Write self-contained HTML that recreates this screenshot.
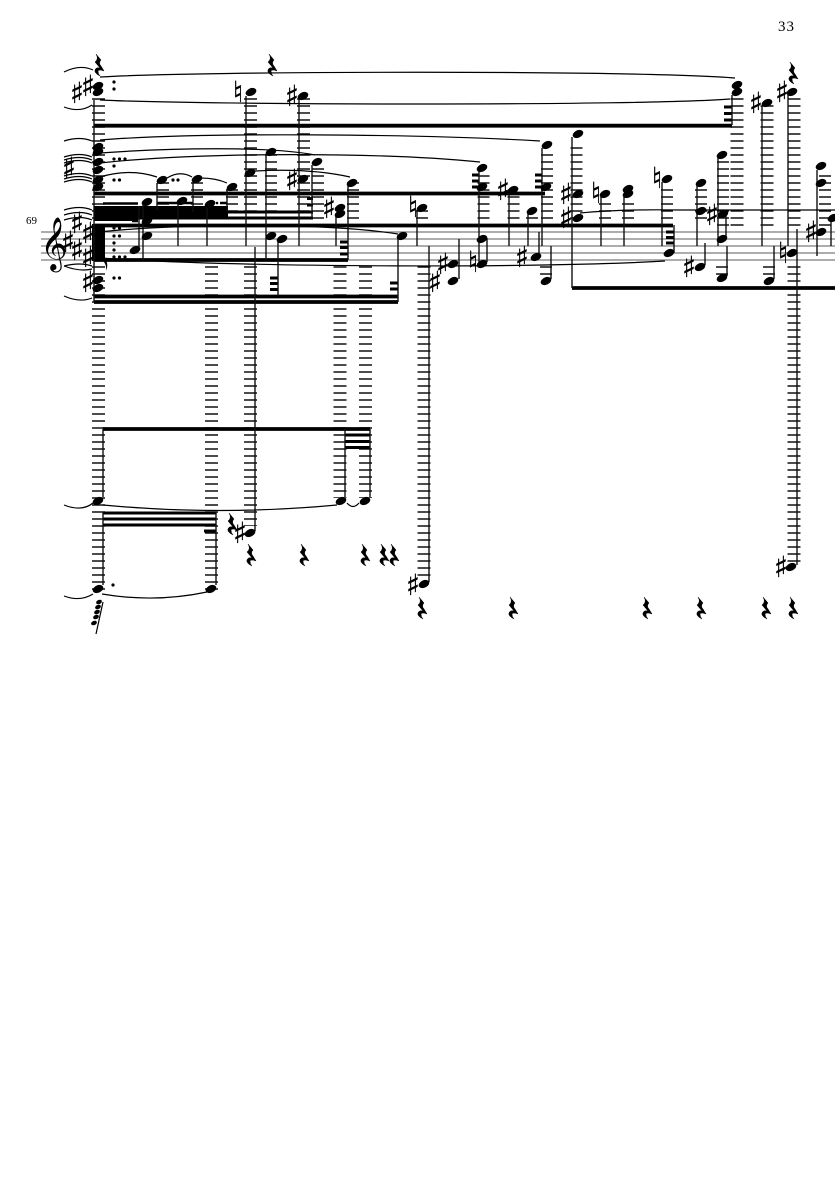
<!DOCTYPE html>
<html><head><meta charset="utf-8"><style>html,body{margin:0;padding:0;background:#fff}svg{display:block}
.n ellipse{rx:5.6px;ry:3.7px;transform-box:fill-box;transform-origin:center;transform:rotate(-24deg)}
.n .g{rx:3px;ry:2.1px}
</style></head><body>
<svg xmlns="http://www.w3.org/2000/svg" width="835" height="1181" viewBox="0 0 835 1181">
<rect width="835" height="1181" fill="#fff"/>
<g font-family="'Liberation Serif',serif" fill="#000"><text x="778" y="31" font-size="15" letter-spacing="1">33</text><text x="26" y="224" font-size="11">69</text></g>
<path d="M41 232H835M41 239H835M41 246H835M41 253H835M41 260H835" stroke="#7c7c7c" stroke-width="1.300" fill="none"/>
<g stroke="#111" stroke-dasharray="1.500 5.500" fill="none">
<g stroke-width="13">
<path d="M98.500 98.250V226M98.500 266.250V591"/>
<path d="M211.500 266.250V591M250.500 98.250V226M250.500 266.250V526M340 266.250V498M365.500 266.250V498M303.500 98.250V226M424 266.250V578"/>
<path d="M737 98.250V226M767 105.250V226M794 98.250V226M794 266.250V563"/>
</g>
<g stroke-width="12">
<path d="M271 154.250V226M318 168.250V219M353 182.250V219M483.500 175.250V219M513.500 196.250V219M547 154.250V219M576.500 147.250V219M605 203.250V219M628 203.250V219M667 189.250V219M701 189.250V219M723 161.250V226M825 175.250V226"/>
<path d="M163 182.250V212M197 182.250V212M232 189.250V212M422 210.250V219M532 217.250V219M546 266.250V276M722 266.250V276M769 266.250V276"/>
</g>
</g>
<g stroke="#000" fill="none">
<path stroke-width="3.800" d="M94 125.700H732M94 193.500H545M94 225.500H673M94 260H348M94 296.500H398M94 302H398M103 429H370M572 288H835"/>
<path stroke-width="3" d="M345 435H370M345 441.500H370M345 447.500H370M103 513H216M103 519H216M103 525H216M94 212H313M94 218H313M270 278H278M270 283.500H278M270 289.500H278M307 198.500H313M307 205H313M340 242H348M340 247.500H348M340 254H348M390 283H398M390 289H398M472 175H479M472 181H479M472 187H479M535 175H542M535 181H542M535 187H542M666 232H674M666 237.500H674M666 243H674M724 107H732M724 113.500H732M724 120H732M204 531H216"/>
<path stroke-width="2.400" d="M103 203.500H138M157 203H193M132 221H138M220 203H227"/>
</g>
<rect x="94" y="206" width="134" height="11" fill="#000"/>
<rect x="94" y="216" width="44" height="5" fill="#000"/>
<rect x="92" y="224" width="13" height="37" fill="#000"/>
<path fill="none" stroke="#111" stroke-width="1.400" d="M94 100V302M103 429V497M345 429V497M370 429V497M103 512V585M216 512V585M139 206V247M143 205V260M157 183V210M178 204V246M193 182V212M207 206V246M227 190V212M246 96V246M266 155V260M278 240V296M255 247V531M299 96V246M312 165V218M336 215V246M348 186V260M398 238V302M429 246V582M417 210V246M459 239V279M479 171V265M487 238V262M509 193V246M528 213V246M539 232V255M542 148V246M551 246V279M572 137V288M601 197V246M624 197V246M662 182V246M674 225V253M697 186V246M705 243V265M718 158V246M726 215V237M727 246V276M732 95V125M762 106V246M774 246V279M788 95V246M797 229V565M817 170V256M831 221V246"/>
<g class="n" fill="#000">
<ellipse cx="98" cy="86"/><ellipse cx="98" cy="92"/><ellipse cx="98" cy="147"/><ellipse cx="98" cy="152"/><ellipse cx="98" cy="162"/><ellipse cx="98" cy="170"/><ellipse cx="98" cy="180"/><ellipse cx="98" cy="187"/><ellipse cx="98" cy="280"/><ellipse cx="98" cy="288"/>
<ellipse cx="98" cy="501"/><ellipse cx="341" cy="501"/><ellipse cx="365" cy="501"/><ellipse cx="98" cy="589"/><ellipse cx="211" cy="589"/><ellipse cx="250" cy="533"/><ellipse cx="424" cy="584"/><ellipse cx="791" cy="567"/>
<ellipse cx="135" cy="250"/><ellipse cx="147" cy="202"/><ellipse cx="147" cy="221"/><ellipse cx="147" cy="236"/><ellipse cx="162" cy="180"/><ellipse cx="182" cy="201"/><ellipse cx="197" cy="179"/><ellipse cx="210" cy="204"/><ellipse cx="232" cy="187"/><ellipse cx="251" cy="92"/><ellipse cx="250" cy="173"/><ellipse cx="271" cy="152"/><ellipse cx="271" cy="236"/><ellipse cx="282" cy="239"/>
<ellipse cx="303" cy="96"/><ellipse cx="303" cy="179"/><ellipse cx="317" cy="162"/><ellipse cx="340" cy="208"/><ellipse cx="340" cy="214"/><ellipse cx="352" cy="183"/><ellipse cx="402" cy="236"/><ellipse cx="422" cy="208"/><ellipse cx="453" cy="264"/><ellipse cx="453" cy="281"/><ellipse cx="482" cy="264"/><ellipse cx="482" cy="239"/><ellipse cx="482" cy="168"/><ellipse cx="482" cy="187"/><ellipse cx="513" cy="190"/><ellipse cx="532" cy="211"/><ellipse cx="536" cy="257"/><ellipse cx="547" cy="145"/><ellipse cx="546" cy="187"/><ellipse cx="546" cy="281"/>
<ellipse cx="578" cy="134"/><ellipse cx="578" cy="194"/><ellipse cx="578" cy="218"/><ellipse cx="605" cy="194"/><ellipse cx="628" cy="189"/><ellipse cx="628" cy="194"/><ellipse cx="667" cy="179"/><ellipse cx="669" cy="253"/><ellipse cx="701" cy="183"/><ellipse cx="701" cy="211"/><ellipse cx="700" cy="267"/><ellipse cx="722" cy="155"/><ellipse cx="723" cy="214"/><ellipse cx="722" cy="239"/><ellipse cx="722" cy="278"/><ellipse cx="737" cy="85"/><ellipse cx="737" cy="92"/><ellipse cx="767" cy="103"/><ellipse cx="769" cy="281"/><ellipse cx="792" cy="92"/><ellipse cx="792" cy="253"/><ellipse cx="821" cy="166"/><ellipse cx="821" cy="183"/><ellipse cx="821" cy="232"/><ellipse cx="833" cy="218"/>
<ellipse class="g" cx="99" cy="602"/><ellipse class="g" cx="98" cy="607"/><ellipse class="g" cx="97" cy="612"/><ellipse class="g" cx="96" cy="617"/><ellipse class="g" cx="94" cy="623"/>
</g>
<path d="M103 602L96 634" stroke="#000" stroke-width="1.200" fill="none"/>
<g fill="#000">
<circle cx="114" cy="82" r="1.600"/><circle cx="114" cy="89" r="1.600"/><circle cx="114" cy="159" r="1.600"/><circle cx="119.500" cy="159" r="1.600"/><circle cx="125" cy="159" r="1.600"/><circle cx="114" cy="166" r="1.600"/><circle cx="114" cy="180" r="1.600"/><circle cx="119.500" cy="180" r="1.600"/><circle cx="173" cy="180" r="1.600"/><circle cx="178" cy="180" r="1.600"/><circle cx="114" cy="228" r="1.600"/><circle cx="119.500" cy="228" r="1.600"/><circle cx="114" cy="236" r="1.600"/><circle cx="119.500" cy="236" r="1.600"/><circle cx="114" cy="243" r="1.600"/><circle cx="114" cy="250" r="1.600"/><circle cx="114" cy="257" r="1.600"/><circle cx="119.500" cy="257" r="1.600"/><circle cx="125" cy="257" r="1.600"/><circle cx="114" cy="278" r="1.600"/><circle cx="119.500" cy="278" r="1.600"/><circle cx="113" cy="585" r="1.600"/><circle cx="217" cy="203" r="1.300"/>
</g>
<g fill="none" stroke="#000" stroke-width="1.200">
<path d="M100 77C200 71 640 70 735 78M100 100C200 105 640 106 730 99M100 140C200 132 420 134 540 141M100 153C170 148 270 146 315 155M100 163C200 152 380 152 480 162M100 177Q130 168 157 177M167 178Q180 170 192 177M200 178Q216 178 227 183M255 171Q310 168 350 177M100 232C170 224 320 222 398 234M100 258C250 268 550 268 665 261M580 213Q620 209 680 210L835 210"/>
<path d="M103 505Q220 516 337 505M347 503Q353 510 359 503M102 594Q155 603 207 592"/>
<path d="M64 505Q82 512 93 503M64 596Q80 602 93 594M64 72Q80 64 93 70M64 107Q80 113 92 105M64 141Q80 136 92 141M64 157Q80 152 92 157M64 160Q80 155 92 160M64 163Q80 158 92 163M64 176Q80 171 92 176M64 179Q80 174 92 179M64 182Q80 177 92 182M64 210Q80 205 92 210M64 215Q80 210 92 215M64 220Q80 215 92 220M64 266Q80 262 92 266M64 266Q80 272 92 269M64 296Q80 303 92 298"/>
</g>
<path d="M97 249L105 259Q109 264 106 271Q107 264 102 260L96 254Z" fill="#000"/>
<g fill="#000" stroke="#000" stroke-width=".5">
<path d="M96 54l5 6q-3 3 0 6l3 5q-5-2-6 0q0 3 2 5q-6-3-5-6q1-3 5-2l-5-6q4-3 1-8z"/>
<path d="M269 54l5 6q-3 3 0 6l3 5q-5-2-6 0q0 3 2 5q-6-3-5-6q1-3 5-2l-5-6q4-3 1-8z"/>
<path d="M790 62l5 6q-3 3 0 6l3 5q-5-2-6 0q0 3 2 5q-6-3-5-6q1-3 5-2l-5-6q4-3 1-8z"/>
<path d="M229 513l5 6q-3 3 0 6l3 5q-5-2-6 0q0 3 2 5q-6-3-5-6q1-3 5-2l-5-6q4-3 1-8z"/>
<path d="M248 544l5 6q-3 3 0 6l3 5q-5-2-6 0q0 3 2 5q-6-3-5-6q1-3 5-2l-5-6q4-3 1-8z"/>
<path d="M301 544l5 6q-3 3 0 6l3 5q-5-2-6 0q0 3 2 5q-6-3-5-6q1-3 5-2l-5-6q4-3 1-8z"/>
<path d="M362 544l5 6q-3 3 0 6l3 5q-5-2-6 0q0 3 2 5q-6-3-5-6q1-3 5-2l-5-6q4-3 1-8z"/>
<path d="M381 544l5 6q-3 3 0 6l3 5q-5-2-6 0q0 3 2 5q-6-3-5-6q1-3 5-2l-5-6q4-3 1-8z"/>
<path d="M391 544l5 6q-3 3 0 6l3 5q-5-2-6 0q0 3 2 5q-6-3-5-6q1-3 5-2l-5-6q4-3 1-8z"/>
<path d="M419 597l5 6q-3 3 0 6l3 5q-5-2-6 0q0 3 2 5q-6-3-5-6q1-3 5-2l-5-6q4-3 1-8z"/>
<path d="M510 597l5 6q-3 3 0 6l3 5q-5-2-6 0q0 3 2 5q-6-3-5-6q1-3 5-2l-5-6q4-3 1-8z"/>
<path d="M644 597l5 6q-3 3 0 6l3 5q-5-2-6 0q0 3 2 5q-6-3-5-6q1-3 5-2l-5-6q4-3 1-8z"/>
<path d="M698 597l5 6q-3 3 0 6l3 5q-5-2-6 0q0 3 2 5q-6-3-5-6q1-3 5-2l-5-6q4-3 1-8z"/>
<path d="M763 597l5 6q-3 3 0 6l3 5q-5-2-6 0q0 3 2 5q-6-3-5-6q1-3 5-2l-5-6q4-3 1-8z"/>
<path d="M790 597l5 6q-3 3 0 6l3 5q-5-2-6 0q0 3 2 5q-6-3-5-6q1-3 5-2l-5-6q4-3 1-8z"/>
</g>
<g font-family="'DejaVu Sans',sans-serif" font-size="29" text-anchor="middle" fill="#000" stroke="#000" stroke-width=".35">
<text x="77" y="103">♯</text><text x="88" y="96">♯</text><text x="69" y="178">♯</text><text x="77" y="233">♯</text><text x="88" y="243">♯</text><text x="68" y="252">♯</text><text x="77" y="260">♯</text><text x="88" y="267">♯</text><text x="88" y="292">♯</text>
<text x="240" y="543">♯</text><text x="413" y="595">♯</text><text x="292" y="106">♯</text><text x="292" y="190">♯</text><text x="329" y="218">♯</text><text x="435" y="292">♯</text><text x="443" y="274">♯</text><text x="503" y="200">♯</text><text x="522" y="267">♯</text><text x="566" y="204">♯</text><text x="566" y="228">♯</text><text x="689" y="277">♯</text><text x="712" y="225">♯</text><text x="756" y="113">♯</text><text x="782" y="102">♯</text><text x="781" y="577">♯</text><text x="811" y="242">♯</text>
<text x="238" y="102">♮</text><text x="413" y="217">♮</text><text x="473" y="272">♮</text><text x="596" y="203">♮</text><text x="657" y="188">♮</text><text x="783" y="263">♮</text>
</g>
<text x="54" y="259" font-family="'DejaVu Sans',sans-serif" font-size="46" text-anchor="middle" fill="#000">𝄞</text>
</svg>
</body></html>
